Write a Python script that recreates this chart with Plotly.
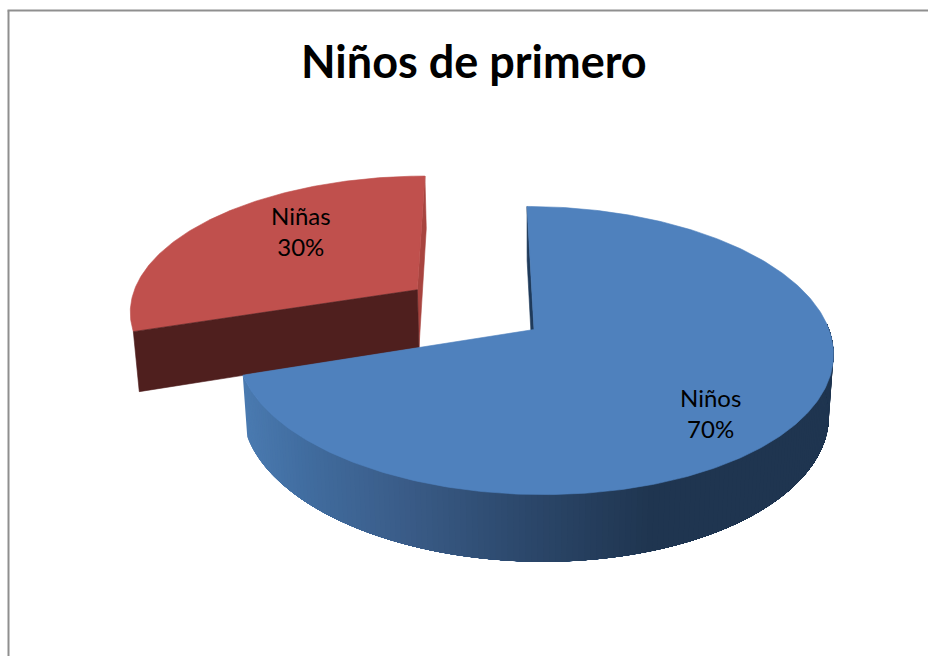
import math
import plotly.graph_objects as go

# Chart data
TITLE = "Niños de primero"
categories = ["Niños", "Niñas"]
shares = [70, 30]
slice_colors = ["#4f81bd", "#c0504d"]
cut_face_colors = ["#1f3a5a", "#4f1f1e"]
back_wall_color = "#a8443f"
explode = [0.0, 0.5]

# Camera: unit pie disc (X right, Y back, Z down) to page pixels
CX, CY = 534.0, 329.5
SX, SHEAR, SY = 295.0, -8.0, 141.0
PERSP_Y, PERSP_Z, THICK = 0.146, 0.015, 60.8

# Side wall shading, left to right across the page
wall_ramp = [(243, (74, 122, 176)), (300, (65, 109, 160)), (400, (58, 92, 136)),
             (500, (46, 75, 112)), (600, (36, 60, 90)), (650, (31, 53, 80)), (930, (31, 53, 80))]


def project(X, Y, Z=0.0):
    w = 1 + PERSP_Y * Y + PERSP_Z * Z
    return CX + (SX * X + SHEAR * Y) / w, CY + (-SY * Y + THICK * Z) / w


def rim(deg, off, Z=0.0):
    a = math.radians(deg)
    return project(off[0] + math.sin(a), off[1] + math.cos(a), Z)


def ramp_color(x):
    for (x0, c0), (x1, c1) in zip(wall_ramp, wall_ramp[1:]):
        if x <= x1:
            t = max(0.0, (x - x0) / (x1 - x0))
            r, g, b = (round(u + (v - u) * t) for u, v in zip(c0, c1))
            return f"rgb({r},{g},{b})"
    return "rgb(31,53,80)"


def polygon(points, color, name="", stroke=0.6):
    xs, ys = zip(*points)
    return go.Scatter(x=list(xs) + [xs[0]], y=list(ys) + [ys[0]], mode="lines", fill="toself",
                      fillcolor=color, line=dict(color=color, width=stroke), name=name,
                      hoverinfo="skip", showlegend=False)


# Slice angles run clockwise from twelve o'clock
total = sum(shares)
spans = []
start = 0.0
for v in shares:
    end = start + 360.0 * v / total
    spans.append((start, end))
    start = end

offsets = []
for (a0, a1), e in zip(spans, explode):
    mid = math.radians((a0 + a1) / 2)
    offsets.append((e * math.sin(mid), e * math.cos(mid)))

fig = go.Figure()


def arc(a0, a1, off, Z=0.0, n=160):
    return [rim(a0 + (a1 - a0) * i / n, off, Z) for i in range(n + 1)]


# Exploded red slice goes first: blue overlaps its lower front corner
a0, a1 = spans[1]
off = offsets[1]
apex, apex_low = project(off[0], off[1]), project(off[0], off[1], 1)
fig.add_trace(polygon([rim(a1, off), rim(a1, off, 1), apex_low, apex], back_wall_color))
fig.add_trace(polygon([apex] + arc(a0, a1, off), slice_colors[1], categories[1]))
fig.add_trace(polygon([rim(a0, off), rim(a0, off, 1), apex_low, apex], cut_face_colors[1]))

# Blue slice: cut face, shaded outer wall, then the top.
# Wall strips run from each angle all the way to the dark end, so that later
# strips paint over earlier ones and no gaps show between neighbours.
a0, a1 = spans[0]
off = offsets[0]
apex, apex_low = project(off[0], off[1]), project(off[0], off[1], 1)
fig.add_trace(polygon([rim(a0, off), rim(a0, off, 1), apex_low, apex], cut_face_colors[0]))
WALL_END = 88.0
step = 1.0
deg = WALL_END
wall_angles = []
while deg < a1:
    wall_angles.append(deg)
    deg += step
wall_angles.append(a1)
for lead in reversed(wall_angles[:-1] + [a1]):
    band = arc(lead, WALL_END, off, n=40)
    band_low = arc(lead, WALL_END, off, Z=1, n=40)
    fig.add_trace(polygon(band + band_low[::-1], ramp_color(rim(lead, off)[0]), stroke=0))
fig.add_trace(polygon([apex] + arc(a0, a1, off, n=300), slice_colors[0], categories[0]))

label_font = dict(family="Lato, Carlito, sans-serif", size=24, color="#000000")
label_anchor = [(710, 413), (301, 231)]
annotations = [
    dict(x=x, y=y, xref="x", yref="y", showarrow=False, align="center", font=label_font,
         text=f"{c}<br>{v}%")
    for (x, y), c, v in zip(label_anchor, categories, shares)
]
annotations.append(dict(x=474, y=61, xref="x", yref="y", showarrow=False,
                        font=dict(family="Lato, Carlito, sans-serif", size=45, color="#000000"),
                        text=f"<b>{TITLE}</b>"))

frame = dict(color="#8f8f8f", width=2)
fig.update_layout(
    width=928, height=656, margin=dict(l=0, r=0, t=0, b=0),
    paper_bgcolor="#ffffff", plot_bgcolor="#ffffff", showlegend=False,
    xaxis=dict(range=[0, 928], visible=False, fixedrange=True),
    yaxis=dict(range=[656, 0], visible=False, fixedrange=True),
    annotations=annotations,
    shapes=[
        dict(type="line", xref="x", yref="y", x0=8.5, y0=656, x1=8.5, y1=10.5, line=frame),
        dict(type="line", xref="x", yref="y", x0=7.5, y0=10.5, x1=928, y1=10.5, line=frame),
    ],
)

fig.write_html("out.html", config=dict(displayModeBar=False))
